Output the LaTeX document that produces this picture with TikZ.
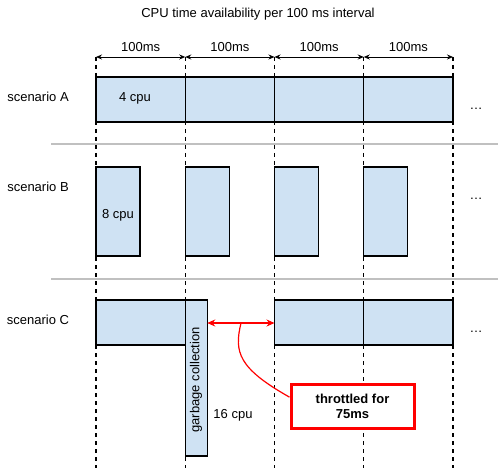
\documentclass[tikz,border=0pt]{standalone}
\usepackage{fontspec}
\setmainfont{Liberation Sans}
\usetikzlibrary{arrows.meta}

\definecolor{barblue}{RGB}{207,226,243}
\definecolor{sepgray}{RGB}{192,192,192}
\definecolor{callred}{RGB}{255,0,0}

\tikzset{
  bar/.style={draw=black, line width=1.2pt, fill=barblue, inner sep=0pt, outer sep=0pt, anchor=north west},
  gridline/.style={line width=1.2pt, dash pattern=on 4pt off 4pt},
  dim/.style={line width=0.8pt, {Stealth[length=6pt,width=5pt]}-{Stealth[length=6pt,width=5pt]}},
  sep/.style={sepgray, line width=2pt},
  throt/.style={callred, line width=1.2pt},
  callout/.style={draw=callred, fill=white, line width=3pt, align=center, font=\bfseries, minimum width=123pt, minimum height=44pt},
}

\begin{document}
\begin{tikzpicture}[x=1pt, y=-1pt]

\def\colw{89.25}
\def\ox{96}

\fontsize{13}{15}\selectfont
\path [use as bounding box] (0,0) rectangle (498,468);

% TITLE
\node (title) at (258,14) {CPU time availability per 100 ms interval};

% GRID
\foreach \i in {0,...,4} {
  \coordinate (top\i) at (\ox+\i*\colw,57);
  \coordinate (bot\i) at (\ox+\i*\colw,468);
  \draw [gridline] (top\i) -- (bot\i);
}
\foreach \i/\j in {0/1,1/2,2/3,3/4}
  \draw [dim] (top\i) -- node[above=1pt] (len\i) {100ms} (top\j);

% SEPARATORS
\draw [sep] (51,144.5) -- (498,144.5);
\draw [sep] (51,279) -- (498,279);

% SCENARIO A
\node (labA) at (38,97) {scenario A};
\foreach \i in {0,...,3}
  \node [bar, minimum width=\colw, minimum height=45] (a\i) at (\ox+\i*\colw,77) {};
\node (cpuA) at (135,98) {4 cpu};
\node [anchor=base] (moreA) at (476,109.5) {\dots};

% SCENARIO B
\node (labB) at (38,187) {scenario B};
\foreach \i in {0,...,3}
  \node [bar, minimum width=44, minimum height=89] (b\i) at (\ox+\i*\colw,167) {};
\node (cpuB) at (118,215) {8 cpu};
\node [anchor=base] (moreB) at (476,199.5) {\dots};

% SCENARIO C
\node (labC) at (38,320) {scenario C};
\node [bar, minimum width=\colw, minimum height=45] (c0) at (\ox,300) {};
\node [bar, minimum width=22, minimum height=156] (gc) at (\ox+\colw,300) {};
\node [rotate=90] (gctext) at (196,380) {garbage collection};
\node (cpuC) at (233,415) {16 cpu};
\node [bar, minimum width=\colw, minimum height=45] (c1) at (\ox+2*\colw,300) {};
\node [bar, minimum width=\colw, minimum height=45] (c2) at (\ox+3*\colw,300) {};
\node [anchor=base] (moreC) at (476,332.5) {\dots};

% THROTTLE
\coordinate (gap) at (241,323);
\draw [throt, {Stealth[length=8pt,width=7pt]}-{Stealth[length=8pt,width=7pt]}] (gc.east |- gap) -- (c1.west |- gap);
\node [callout] (note) at (352.5,406) {throttled for\\75ms};
\draw [throt] (gap) .. controls (234,352) and (238,368) .. (note.172);

\end{tikzpicture}
\end{document}
